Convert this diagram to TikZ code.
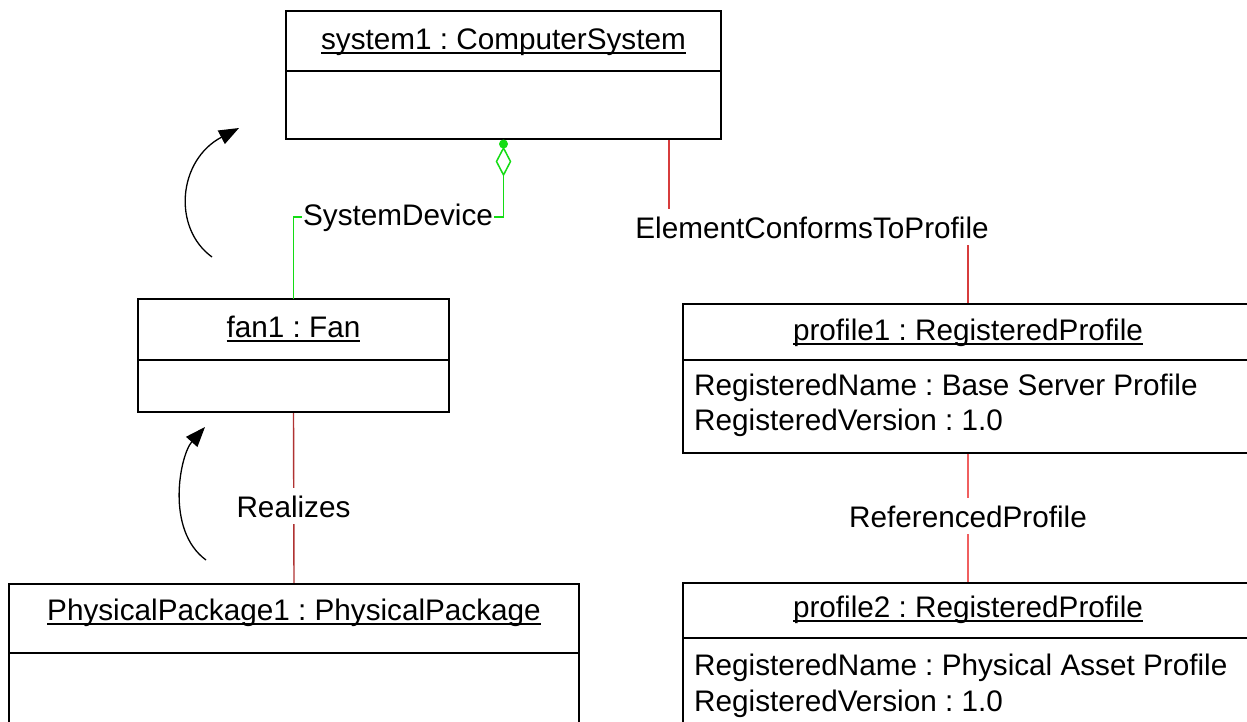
\documentclass[tikz,border=0pt]{standalone}
\usepackage{fontspec}
\setmainfont{Liberation Sans}
\usetikzlibrary{arrows.meta,backgrounds}
\frenchspacing
\newcommand\ulname[1]{\setbox0\hbox{#1}\rlap{\rule[-0.17em]{\wd0}{0.07em}}\box0}
\definecolor{lnkdark}{RGB}{175,50,50}
\definecolor{lnkmid}{RGB}{215,60,60}
\definecolor{lnklight}{RGB}{240,95,95}
\definecolor{aggr}{RGB}{20,220,20}
\begin{document}
\begin{tikzpicture}[x=1pt,y=-1pt,
  box/.style={draw=black,line width=2.2pt,inner sep=0pt,outer sep=0pt,anchor=north west},
  div/.style={draw=black,line width=2.2pt},
  txt/.style={font=\fontsize{29.7}{35.6}\selectfont,inner sep=0pt,anchor=base},
  attr/.style={txt,anchor=base west},
  lbl/.style={txt,fill=white,inner xsep=1pt,inner ysep=7pt},
  lnk/.style={line width=1.4pt},
  aggrline/.style={line width=1.9pt,draw=aggr},
  curv/.style={line width=1.3pt,-{Triangle[length=20pt,width=15pt]}}]
\useasboundingbox (0,0) rectangle (1247,721);
\clip (0,0) rectangle (1247,721);
% boxes
\node[box,minimum width=435pt,minimum height=128pt] (sys) at (286,11) {};
\draw[div] (286,71) -- (721,71);
\node[txt] (sysname) at (503.5,49) {\ulname{system1 : ComputerSystem}};

\node[box,minimum width=311pt,minimum height=113pt] (fan) at (138,299) {};
\draw[div] (138,360) -- (449,360);
\node[txt] (fanname) at (293.5,337) {\ulname{fan1 : Fan}};

\node[box,minimum width=570pt,minimum height=200pt] (pkg) at (9,584) {};
\draw[div] (9,653) -- (579,653);
\node[txt] (pkgname) at (294,620) {\ulname{PhysicalPackage1 : PhysicalPackage}};

\node[box,minimum width=570pt,minimum height=149pt] (prof1) at (683,304) {};
\draw[div] (683,360) -- (1253,360);
\node[txt] (p1name) at (968,340) {\ulname{profile1 : RegisteredProfile}};
\node[attr] (p1a) at (694,395) {RegisteredName : Base Server Profile};
\node[attr] (p1b) at (694,430) {RegisteredVersion : 1.0};

\node[box,minimum width=570pt,minimum height=200pt] (prof2) at (683,583) {};
\draw[div] (683,638) -- (1253,638);
\node[txt] (p2name) at (968,617) {\ulname{profile2 : RegisteredProfile}};
\node[attr] (p2a) at (694,675) {RegisteredName : Physical Asset Profile};
\node[attr] (p2b) at (694,711) {RegisteredVersion : 1.0};

% labels
\node[lbl] (sdl) at (398,225) {SystemDevice};
\node[lbl] (ecp) at (812,238) {ElementConformsToProfile};
\node[lbl] (rl) at (293.5,517) {Realizes};
\node[lbl] (rp) at (968,527) {ReferencedProfile};

% SystemDevice: aggregation end (dot + open diamond) below system1
\coordinate (dtop) at (503.5,148);
\coordinate (dbot) at (503.5,175);
\fill[aggr] (503.5,144) circle (4.5);
\draw[aggrline,line width=1.5pt,fill=white] (dtop) -- (510.5,161.5) -- (dbot) -- (496.5,161.5) -- cycle;
\draw[aggrline] (fan.north) |- (sdl.west);
\draw[aggrline] (sdl.east) -| (dbot);

\coordinate (sysR) at (669,139);
\begin{pgfonlayer}{background}
\draw[lnk,draw=lnkmid] (sysR) |- (ecp.center) -| (prof1.north);
\draw[lnk,draw=lnkdark] (fan.south) -- (pkg.north);
\draw[lnk,draw=lnklight] (prof1.south) -- (prof2.north);
\end{pgfonlayer}

% curved arrows
\coordinate (a1s) at (212,257);
\coordinate (a1e) at (239,128);
\draw[curv] (a1s) .. controls (172,228) and (178,160) .. (a1e);
\coordinate (a2s) at (206,560);
\coordinate (a2e) at (205,427);
\draw[curv] (a2s) .. controls (165,530) and (180,455) .. (a2e);
\end{tikzpicture}
\end{document}
